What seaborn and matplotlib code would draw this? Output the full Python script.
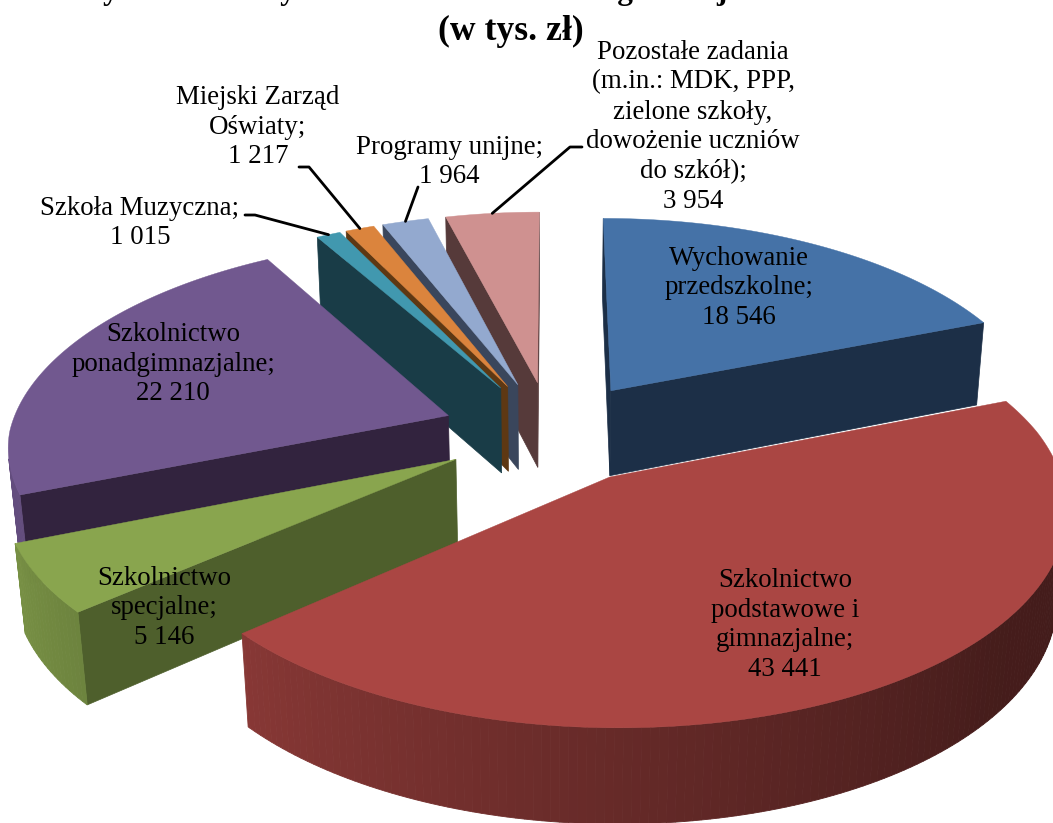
import numpy as np
import pandas as pd
import matplotlib
matplotlib.use('Agg')
import matplotlib.pyplot as plt
import seaborn as sns

names = ['Wychowanie\nprzedszkolne;', 'Szkolnictwo\npodstawowe i\ngimnazjalne;', 'Szkolnictwo\nspecjalne;',
         'Szkolnictwo\nponadgimnazjalne;', 'Szkoła Muzyczna;', 'Miejski Zarząd\nOświaty;', 'Programy unijne;',
         'Pozostałe zadania\n(m.in.: MDK, PPP,\nzielone szkoły,\ndowożenie uczniów\ndo szkół);']
values = [18546, 43441, 5146, 22210, 1015, 1217, 1964, 3954]
value_labels = ['18 546', '43 441', '5 146', '22 210', '1 015', '1 217', '1 964', '3 954']
top_colors = ['#4572A7', '#AA4643', '#89A54E', '#71588F', '#4198AF', '#DB843D', '#93A9CF', '#CF9190']
side_colors = ['#1C2F47', '#451C19', '#4E5F2C', '#32233E', '#193C47', '#5E3813', '#3A465C', '#563A3A']

# the first title line is cut off by the image edge, only descender tips show; its wording is a guess
title_cut = 'Wydatki oświaty w budżecie miast według funkcji w 2012 r.'
title_unit = '(w tys. zł)'

# projection of the tilted pie onto pixels
cx, cy = 551, 432
fx, fy = 439, 205
persp = 0.131
persp_back = 0.02
persp_z = 0.018
depth = 88
explode = 0.25

df = pd.DataFrame({'name': names, 'value': values, 'label': value_labels})
df['sweep'] = df['value'] / df['value'].sum() * 360
df['start'] = df['sweep'].cumsum() - df['sweep']
df['end'] = df['start'] + df['sweep']
df['mid'] = df['start'] + df['sweep'] / 2


def project(x, y, z=0.0):
    w = 1 + persp * y + persp_z * z
    return cx + fx * x / (w + persp_back * max(y, 0)), cy - (fy * y - depth * z) / w


def slice_point(row, theta, r=1.0, z=0.0):
    m = np.radians(row.mid)
    t = np.radians(theta)
    x = explode * np.sin(m) + r * np.sin(t)
    y = explode * np.cos(m) + r * np.cos(t)
    return project(x, y, z)


def area(pts):
    p = np.array(pts)
    return 0.5 * np.sum(p[:, 0] * np.roll(p[:, 1], -1) - np.roll(p[:, 0], -1) * p[:, 1])


def rim_shade(theta):
    return np.interp(theta, [90, 130, 180, 230, 250, 290], [0.38, 0.41, 0.60, 0.80, 0.88, 0.88])


sns.set_theme(style='white')
plt.rcParams['font.family'] = ['Liberation Serif', 'DejaVu Serif']
top_pal = sns.color_palette(top_colors)
side_pal = sns.color_palette(side_colors)

fig = plt.figure(figsize=(10.53, 8.23), dpi=100)
ax = fig.add_axes([0, 0, 1, 1])
ax.set_xlim(0, 1053)
ax.set_ylim(823, 0)
ax.axis('off')

# back slices first, red one last
draw_order = [7, 6, 5, 4, 0, 3, 2, 1]
for z_pos, i in enumerate(draw_order):
    row = df.iloc[i]
    thetas = np.arange(row.start, row.end, 1.0)
    thetas = np.append(thetas, row.end)
    apex_t = slice_point(row, 0, 0, 0)
    apex_b = slice_point(row, 0, 0, 1)
    top = [apex_t] + [slice_point(row, t) for t in thetas]

    first_t, first_b = slice_point(row, row.start), slice_point(row, row.start, 1, 1)
    last_t, last_b = slice_point(row, row.end), slice_point(row, row.end, 1, 1)
    for quad in ([apex_t, first_t, first_b, apex_b], [last_t, apex_t, apex_b, last_b]):
        if area(quad) < 0:
            ax.fill(*zip(*quad), color=side_pal[i], lw=0.5, zorder=2 + z_pos)

    for a, b in zip(thetas[:-1], thetas[1:]):
        quad = [slice_point(row, a), slice_point(row, b), slice_point(row, b, 1, 1), slice_point(row, a, 1, 1)]
        if area(quad) < 0:
            base = np.array(top_pal[i])
            ax.fill(*zip(*quad), color=tuple(base * rim_shade((a + b) / 2)), lw=0.6, zorder=2 + z_pos)

    ax.fill(*zip(*top), color=top_pal[i], lw=0.3, zorder=2 + z_pos)

# labels sitting on the slices and beside them, centre of each text block in pixels
label_x = [739, 785, 164, 173, 140, 258, 449, 693]
label_y = [288, 625, 608, 364, 223, 127, 162, 127]
for i, row in df.iterrows():
    ax.text(label_x[i], label_y[i], row['name'] + '\n' + row['label'], ha='center', va='center',
            fontsize=19.4, color='black', linespacing=1.26, zorder=20)

# leader lines end on the rim of the small slices
leader_starts = {4: [(245, 215), (255, 215)], 5: [(299, 167), (309, 167)], 6: [(418, 187)], 7: [(582, 147), (570, 147)]}
for i, pts in leader_starts.items():
    row = df.iloc[i]
    end = slice_point(row, row.mid)
    xs, ys = zip(*(pts + [end]))
    ax.plot(xs, ys, color='black', lw=2, zorder=15)

ax.text(73, -1, title_cut, ha='left', va='baseline', fontsize=22.4, fontweight='bold', color='black')
ax.text(511, 40, title_unit, ha='center', va='baseline', fontsize=25.7, fontweight='bold', color='black', zorder=21)

fig.savefig('out.png', dpi=100)
